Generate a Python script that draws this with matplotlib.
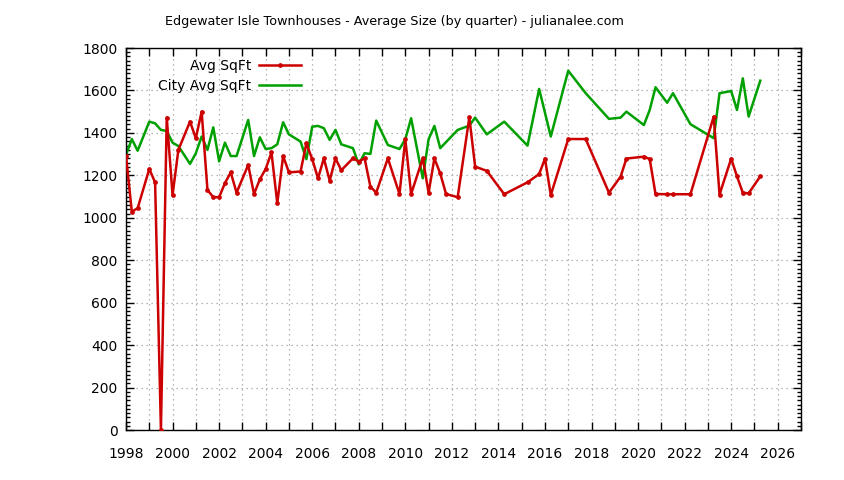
import numpy as np
import matplotlib
matplotlib.use("Agg")
import matplotlib.pyplot as plt
from matplotlib.ticker import MultipleLocator, FuncFormatter

# Edgewater Isle townhouses, quarterly average size
avg_years = [1998.0, 1998.25, 1998.5, 1999.0, 1999.25, 1999.5, 1999.75, 2000.0,
             2000.25, 2000.75, 2001.0, 2001.25, 2001.5, 2001.75, 2002.0, 2002.25,
             2002.5, 2002.75, 2003.25, 2003.5, 2003.75, 2004.0, 2004.25, 2004.5,
             2004.75, 2005.0, 2005.5, 2005.75, 2006.0, 2006.25, 2006.5, 2006.75,
             2007.0, 2007.25, 2007.75, 2008.0, 2008.25, 2008.5, 2008.75, 2009.25,
             2009.75, 2010.0, 2010.25, 2010.75, 2011.0, 2011.25, 2011.5, 2011.75,
             2012.25, 2012.75, 2013.0, 2013.5, 2014.25, 2015.25, 2015.75, 2016.0,
             2016.25, 2017.0, 2017.75, 2018.75, 2019.25, 2019.5, 2020.25, 2020.5,
             2020.75, 2021.25, 2021.5, 2022.25, 2023.25, 2023.5, 2024.0, 2024.25,
             2024.5, 2024.75, 2025.25]
avg_sqft = [1291, 1029, 1045, 1230, 1167, 0, 1472, 1107,
            1320, 1453, 1375, 1500, 1131, 1097, 1097, 1163,
            1214, 1118, 1249, 1112, 1181, 1230, 1308, 1068,
            1291, 1214, 1218, 1351, 1276, 1186, 1280, 1175,
            1280, 1224, 1280, 1265, 1280, 1147, 1118, 1280,
            1112, 1370, 1112, 1280, 1118, 1280, 1209, 1112,
            1097, 1473, 1241, 1221, 1111, 1167, 1206, 1279,
            1107, 1371, 1371, 1118, 1194, 1279, 1288, 1277,
            1112, 1111, 1111, 1111, 1477, 1109, 1279, 1195,
            1118, 1115, 1195]

# city-wide average for the same quarters
city_years = [1998.0, 1998.25, 1998.5, 1999.0, 1999.25, 1999.5, 1999.75, 2000.0,
              2000.25, 2000.75, 2001.0, 2001.25, 2001.5, 2001.75, 2002.0, 2002.25,
              2002.5, 2002.75, 2003.25, 2003.5, 2003.75, 2004.0, 2004.25, 2004.5,
              2004.75, 2005.0, 2005.5, 2005.75, 2006.0, 2006.25, 2006.5, 2006.75,
              2007.0, 2007.25, 2007.75, 2008.0, 2008.25, 2008.5, 2008.75, 2009.25,
              2009.75, 2010.0, 2010.25, 2010.75, 2011.0, 2011.25, 2011.5, 2012.25,
              2012.75, 2013.0, 2013.5, 2014.25, 2015.25, 2015.75, 2016.25, 2017.0,
              2017.75, 2018.75, 2019.25, 2019.5, 2020.25, 2020.5, 2020.75, 2021.25,
              2021.5, 2022.25, 2023.25, 2023.5, 2024.0, 2024.25, 2024.5, 2024.75,
              2025.25]
city_sqft = [1296, 1371, 1316, 1453, 1445, 1414, 1409, 1354,
             1338, 1254, 1304, 1383, 1320, 1426, 1266, 1354,
             1291, 1291, 1461, 1291, 1379, 1324, 1328, 1346,
             1450, 1393, 1359, 1276, 1429, 1433, 1422, 1367,
             1414, 1346, 1328, 1252, 1304, 1301, 1458, 1343,
             1324, 1370, 1469, 1186, 1370, 1433, 1328, 1414,
             1434, 1472, 1393, 1453, 1340, 1607, 1383, 1693,
             1587, 1466, 1472, 1500, 1437, 1508, 1615, 1542,
             1587, 1441, 1375, 1587, 1597, 1508, 1657, 1477,
             1646]

plt.rcParams['font.family'] = ['DejaVu Sans']

fig = plt.figure(figsize=(8.44, 4.8), dpi=100)
ax = fig.add_axes([126/844, 1 - 430/480, (801 - 126)/844, (430 - 48)/480])

ax.plot(avg_years, avg_sqft, color='#cc0000', lw=1.8, marker='o', ms=2.4,
        label='Avg SqFt', zorder=3)
ax.plot(city_years, city_sqft, color='#00a000', lw=1.8, label='City Avg SqFt',
        zorder=2)

ax.set_xlim(1998, 2027)
ax.set_ylim(0, 1800)

ax.xaxis.set_major_locator(MultipleLocator(1))
ax.xaxis.set_major_formatter(FuncFormatter(
    lambda v, p: '%d' % round(v) if round(v) % 2 == 0 else ''))
ax.yaxis.set_major_locator(MultipleLocator(200))
ax.yaxis.set_minor_locator(MultipleLocator(20))

ax.tick_params(which='both', direction='in', top=True, right=True,
               labelsize=10, colors='black', width=1)
ax.tick_params(which='major', length=5.5)
ax.tick_params(axis='x', which='major', pad=12)
ax.tick_params(axis='y', which='major', pad=6)
ax.tick_params(which='minor', length=3)
for s in ax.spines.values():
    s.set_linewidth(1)

ax.grid(True, which='major', color='#a0a0a0', linestyle=(0, (1, 3)), lw=0.9)

fig.text(394/844, 1 - 25.5/480, 'Edgewater Isle Townhouses - Average Size (by quarter) - julianalee.com',
         ha='center', va='baseline', fontsize=9.2)

ax.legend(loc='upper right', bbox_to_anchor=(301/844, 1 - 59/480),
          bbox_transform=fig.transFigure, frameon=False, markerfirst=False,
          fontsize=10, borderpad=0, borderaxespad=0, handlelength=3.0,
          handletextpad=0.6, labelspacing=0.45)

fig.savefig('out.png', dpi=100)
